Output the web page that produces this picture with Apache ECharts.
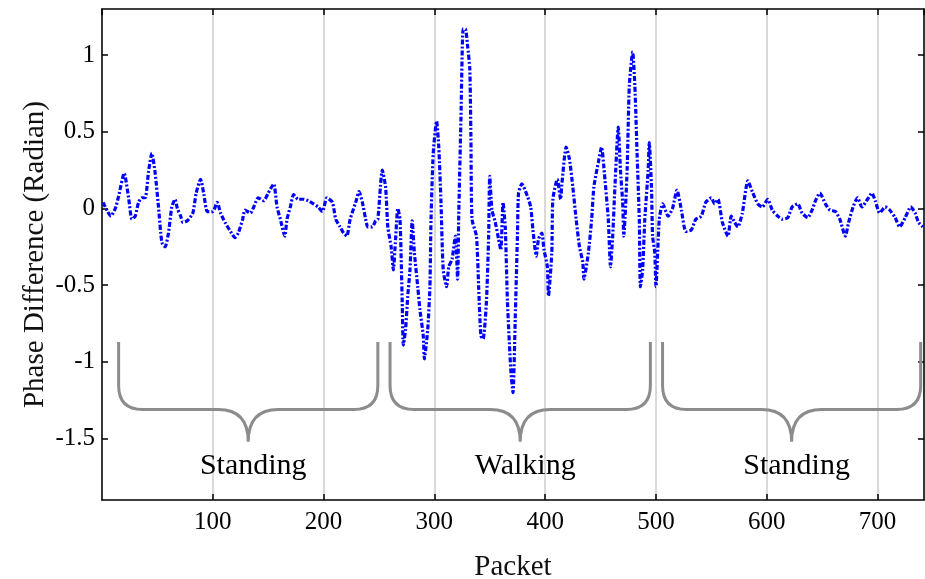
<!DOCTYPE html>
<html>
<head>
<meta charset="utf-8">
<script src="https://cdn.jsdelivr.net/npm/echarts@6/dist/echarts.min.js"></script>
<style>
  html, body { margin: 0; padding: 0; background: #fff; }
  #container { width: 925px; height: 579px; }
</style>
</head>
<body>
<div id="container"></div>
<script>
var dom = document.getElementById('container');
var myChart = echarts.init(dom, null, { renderer: 'canvas' });

// packet index of each read point
var packets = [
  1, 5, 8, 12, 15, 20, 24, 27, 30, 33, 36, 39, 42, 45, 48, 51, 54, 57, 60, 63,
  66, 68, 71, 73, 77, 82, 85, 89, 92, 95, 100, 104, 107, 111, 116, 120, 123, 127, 129, 134,
  137, 141, 146, 150, 155, 158, 161, 165, 167, 170, 173, 177, 182, 186, 191, 195, 199, 203, 208, 211,
  215, 218, 221, 224, 229, 232, 235, 238, 240, 244, 247, 249, 253, 256, 258, 261, 263, 265, 267, 269,
  271, 272, 274, 276, 278, 280, 282, 285, 287, 290, 291, 294, 296, 297, 299, 302, 304, 306, 308, 311,
  313, 316, 319, 321, 322, 324, 326, 328, 330, 332, 333, 334, 338, 340, 342, 344, 347, 349, 350, 352,
  355, 358, 360, 362, 364, 366, 369, 371, 373, 375, 376, 379, 384, 387, 389, 392, 394, 397, 399, 402,
  403, 406, 407, 411, 414, 415, 419, 422, 425, 428, 431, 434, 435, 439, 442, 444, 448, 451, 453, 457,
  459, 461, 463, 466, 468, 470, 471, 474, 476, 479, 481, 483, 485, 486, 488, 490, 493, 494, 496, 497,
  499, 500, 503, 505, 506, 511, 515, 519, 523, 527, 532, 536, 541, 545, 550, 553, 556, 560, 565, 568,
  571, 574, 578, 583, 587, 592, 596, 601, 605, 610, 614, 619, 623, 628, 632, 637, 641, 644, 648, 653,
  657, 662, 666, 671, 674, 678, 682, 686, 691, 695, 698, 702, 707, 711, 716, 720, 725, 730, 734, 737,
  741
];

// phase difference (radian) at those packets
var phaseDiff = [
  0.04, -0.02, -0.05, 0.00, 0.08, 0.23, 0.07, -0.07, -0.05, 0.04, 0.07, 0.07, 0.24, 0.36, 0.23, 0.01, -0.22, -0.25, -0.16, 0.01,
  0.06, 0.00, -0.05, -0.09, -0.08, -0.03, 0.10, 0.19, 0.09, -0.02, -0.02, 0.04, -0.03, -0.09, -0.15, -0.19, -0.16, -0.07, -0.01, -0.03,
  0.01, 0.07, 0.05, 0.10, 0.16, 0.01, -0.07, -0.18, -0.07, 0.01, 0.09, 0.06, 0.06, 0.05, 0.03, 0.01, -0.02, 0.07, 0.04, -0.07,
  -0.12, -0.16, -0.18, -0.07, 0.04, 0.11, 0.04, -0.07, -0.12, -0.12, -0.08, -0.07, 0.25, 0.14, -0.12, -0.25, -0.40, -0.20, 0.00, -0.07,
  -0.61, -0.89, -0.79, -0.57, -0.40, -0.08, -0.29, -0.51, -0.66, -0.83, -0.98, -0.79, -0.51, -0.07, 0.36, 0.57, 0.40, 0.04, -0.40, -0.51,
  -0.38, -0.33, -0.18, -0.46, -0.05, 0.58, 1.17, 1.17, 1.06, 0.91, 0.47, -0.07, -0.18, -0.51, -0.83, -0.85, -0.61, -0.18, 0.21, -0.01,
  -0.09, -0.20, -0.27, 0.04, -0.12, -0.61, -1.05, -1.20, -0.72, -0.18, 0.10, 0.16, 0.08, 0.01, -0.14, -0.31, -0.20, -0.16, -0.27, -0.38,
  -0.57, -0.29, 0.06, 0.19, 0.06, 0.15, 0.40, 0.32, 0.14, -0.07, -0.25, -0.35, -0.46, -0.29, -0.07, 0.14, 0.30, 0.40, 0.27, -0.07,
  -0.38, -0.18, 0.14, 0.53, 0.25, 0.04, -0.18, 0.25, 0.80, 1.02, 0.80, 0.36, -0.07, -0.51, -0.40, -0.07, 0.25, 0.43, 0.14, -0.18,
  -0.29, -0.51, -0.07, 0.01, 0.03, -0.05, 0.00, 0.12, -0.01, -0.15, -0.14, -0.07, -0.05, 0.04, 0.07, 0.03, 0.06, -0.09, -0.18, -0.05,
  -0.09, -0.12, -0.03, 0.18, 0.11, 0.03, 0.01, 0.06, -0.01, -0.05, -0.07, -0.06, 0.01, 0.03, -0.03, -0.06, -0.01, 0.05, 0.10, 0.03,
  -0.01, -0.02, -0.07, -0.18, -0.09, 0.01, 0.07, 0.01, 0.06, 0.10, 0.05, -0.03, 0.01, -0.01, -0.06, -0.12, -0.06, 0.01, -0.03, -0.09,
  -0.12
];

// activity phases (packet ranges)
var phaseNames = ['Standing', 'Walking', 'Standing'];
var phaseStart = [15, 260, 506];
var phaseEnd = [249, 495, 739];

var yTicks = [-1.5, -1, -0.5, 0, 0.5, 1];

var FONT = 'Liberation Serif';
var lineData = packets.map(function (p, i) { return [p, phaseDiff[i]]; });
var braceData = phaseNames.map(function (n, i) { return [phaseStart[i], phaseEnd[i]]; });

// brace levels (data units)
var BRACE_TOP = -0.87, BRACE_MID = -1.31, BRACE_TIP = -1.52, LABEL_Y = -1.68;

function renderBrace(params, api) {
  var a = api.value(0), b = api.value(1), m = (a + b) / 2;
  var pTop0 = api.coord([a, BRACE_TOP]);
  var pMid0 = api.coord([a, BRACE_MID]);
  var pTop1 = api.coord([b, BRACE_TOP]);
  var pTip = api.coord([m, BRACE_TIP]);
  var x0 = pTop0[0], x1 = pTop1[0], xm = pTip[0];
  var yt = pTop0[1], ym = pMid0[1], yp = pTip[1];
  var r = 24, c = 30;
  var d = 'M' + x0 + ' ' + yt +
    ' L' + x0 + ' ' + (ym - r) +
    ' Q' + x0 + ' ' + ym + ' ' + (x0 + r) + ' ' + ym +
    ' L' + (xm - c) + ' ' + ym +
    ' Q' + xm + ' ' + ym + ' ' + xm + ' ' + yp +
    ' Q' + xm + ' ' + ym + ' ' + (xm + c) + ' ' + ym +
    ' L' + (x1 - r) + ' ' + ym +
    ' Q' + x1 + ' ' + ym + ' ' + x1 + ' ' + (ym - r) +
    ' L' + x1 + ' ' + yt;
  var lp = api.coord([m, LABEL_Y]);
  return {
    type: 'group',
    children: [
      {
        type: 'path',
        shape: { pathData: d },
        style: { stroke: '#8c8c8c', lineWidth: 3, fill: null }
      },
      {
        type: 'text',
        style: {
          text: phaseNames[params.dataIndex],
          x: lp[0] + 5, y: lp[1],
          align: 'center', verticalAlign: 'middle',
          fontFamily: FONT, fontSize: 30, fill: '#000'
        }
      }
    ]
  };
}

var axisLineStyle = { color: '#000', width: 1.5 };

var option = {
  animation: false,
  backgroundColor: '#fff',
  grid: { left: 102, right: 1, top: 9, bottom: 79, outerBoundsMode: 'none' },
  xAxis: [
    {
      type: 'value', min: 0, max: 742, interval: 100,
      name: 'Packet', nameLocation: 'middle', nameGap: 53, nameMoveOverlap: false,
      nameTextStyle: { fontFamily: FONT, fontSize: 29, color: '#111' },
      axisLine: { onZero: false, lineStyle: axisLineStyle },
      axisTick: { inside: true, length: 6, lineStyle: axisLineStyle },
      axisLabel: { fontFamily: FONT, fontSize: 25, color: '#000', margin: 10, showMinLabel: false, showMaxLabel: false },
      splitLine: { show: true, lineStyle: { color: '#d9d9d9', width: 2 } }
    },
    {
      type: 'value', position: 'top', min: 0, max: 742, interval: 100,
      axisLine: { onZero: false, lineStyle: axisLineStyle },
      axisTick: { inside: true, length: 6, lineStyle: axisLineStyle },
      axisLabel: { show: false },
      splitLine: { show: false }
    }
  ],
  yAxis: [
    {
      type: 'value', min: -1.9, max: 1.3,
      name: 'Phase Difference (Radian)', nameLocation: 'middle', nameGap: 52, nameMoveOverlap: false,
      nameTextStyle: { fontFamily: FONT, fontSize: 29, color: '#111' },
      axisLine: { onZero: false, lineStyle: axisLineStyle },
      axisTick: { inside: true, length: 6, lineStyle: axisLineStyle, customValues: yTicks },
      axisLabel: { fontFamily: FONT, fontSize: 25, color: '#000', margin: 7, customValues: yTicks },
      splitLine: { show: false }
    },
    {
      type: 'value', position: 'right', min: -1.9, max: 1.3,
      axisLine: { onZero: false, lineStyle: axisLineStyle },
      axisTick: { inside: true, length: 6, lineStyle: axisLineStyle, customValues: yTicks },
      axisLabel: { show: false },
      splitLine: { show: false }
    }
  ],
  series: [
    {
      type: 'line',
      data: lineData,
      showSymbol: false,
      smooth: 0.2,
      lineStyle: { color: '#0000ff', width: 3.2, type: [5, 2, 2, 2] },
      z: 3
    },
    {
      type: 'custom',
      renderItem: renderBrace,
      data: braceData,
      encode: { x: [0, 1] },
      z: 4,
      silent: true
    }
  ]
};

myChart.setOption(option);
window.addEventListener('resize', myChart.resize);
</script>
</body>
</html>
